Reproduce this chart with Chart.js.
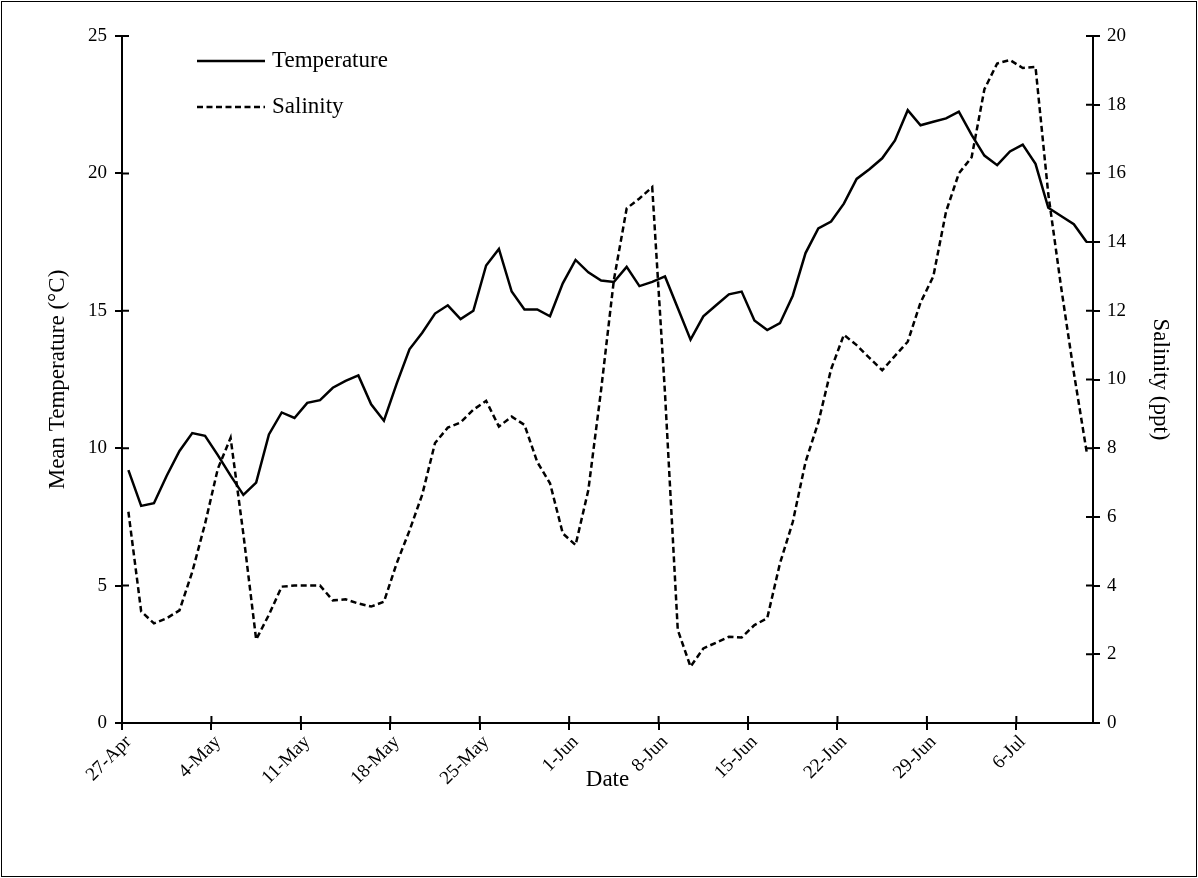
<!DOCTYPE html>
<html>
<head>
<meta charset="utf-8">
<title>Mean Temperature and Salinity</title>
<script src="https://cdn.jsdelivr.net/npm/chart.js@4"></script>
<style>
  body { margin: 0; background: #fff; }
  #wrap { position: relative; width: 1198px; height: 878px; }
  #frame { position: absolute; left: 1px; top: 1px; right: 1px; bottom: 1px; border: 1.5px solid #000; pointer-events: none; }
</style>
</head>
<body>
<div id="wrap">
  <canvas id="tempSalGraph" width="1198" height="878"></canvas>
  <div id="frame"></div>
</div>
<script>
// daily categories, 27-Apr to 11-Jul
const dates = [
    '27-Apr', '28-Apr', '29-Apr', '30-Apr',
    '1-May', '2-May', '3-May', '4-May', '5-May', '6-May', '7-May', '8-May', '9-May', '10-May',
    '11-May', '12-May', '13-May', '14-May', '15-May', '16-May', '17-May', '18-May', '19-May', '20-May',
    '21-May', '22-May', '23-May', '24-May', '25-May', '26-May', '27-May', '28-May', '29-May', '30-May', '31-May',
    '1-Jun', '2-Jun', '3-Jun', '4-Jun', '5-Jun', '6-Jun', '7-Jun', '8-Jun', '9-Jun', '10-Jun',
    '11-Jun', '12-Jun', '13-Jun', '14-Jun', '15-Jun', '16-Jun', '17-Jun', '18-Jun', '19-Jun', '20-Jun',
    '21-Jun', '22-Jun', '23-Jun', '24-Jun', '25-Jun', '26-Jun', '27-Jun', '28-Jun', '29-Jun', '30-Jun',
    '1-Jul', '2-Jul', '3-Jul', '4-Jul', '5-Jul', '6-Jul', '7-Jul', '8-Jul', '9-Jul', '10-Jul', '11-Jul'
];

// Mean temperature (°C)
const temperature = [
    9.2, 7.9, 8.0, 9.0, 9.9, 10.55, 10.45, 9.75, 9.0, 8.3,
    8.75, 10.5, 11.3, 11.1, 11.65, 11.75, 12.2, 12.45, 12.65, 11.6,
    11.0, 12.35, 13.6, 14.2, 14.9, 15.2, 14.7, 15.0, 16.65, 17.25,
    15.7, 15.05, 15.05, 14.8, 16.0, 16.85, 16.4, 16.1, 16.05, 16.6,
    15.9, 16.05, 16.25, 15.1, 13.95, 14.8, 15.2, 15.6, 15.7, 14.65,
    14.3, 14.55, 15.55, 17.1, 18.0, 18.25, 18.9, 19.8, 20.15, 20.55,
    21.2, 22.3, 21.75, 21.88, 22.0, 22.25, 21.4, 20.65, 20.3, 20.8,
    21.05, 20.35, 18.75, 18.45, 18.15, 17.5
];

// Salinity (ppt)
const salinity = [
    6.15, 3.25, 2.9, 3.05, 3.28, 4.4, 5.8, 7.4, 8.3, 5.5,
    2.43, 3.15, 3.97, 4.0, 4.0, 4.0, 3.57, 3.6, 3.48, 3.39,
    3.53, 4.65, 5.6, 6.65, 8.15, 8.6, 8.75, 9.12, 9.38, 8.63,
    8.92, 8.68, 7.6, 6.98, 5.52, 5.18, 6.78, 9.7, 12.9, 14.98,
    15.27, 15.6, 9.6, 2.71, 1.64, 2.17, 2.34, 2.51, 2.49, 2.85,
    3.05, 4.65, 5.85, 7.6, 8.75, 10.3, 11.3, 11.0, 10.63, 10.27,
    10.69, 11.1, 12.24, 13.0, 14.89, 16.0, 16.47, 18.45, 19.2, 19.3,
    19.07, 19.1, 15.4, 12.7, 10.2, 7.9
];

const labelEvery = 7;
const serif = "'Liberation Serif', 'Times New Roman', serif";

// legend drawn inside the plot, stacked like the original
const insideLegend = {
    id: 'insideLegend',
    afterDatasetsDraw(chart) {
        const { ctx, chartArea } = chart;
        ctx.save();
        chart.data.datasets.forEach((ds, i) => {
            const x = chartArea.left + 75;
            const y = chartArea.top + 25 + i * 46;
            ctx.beginPath();
            ctx.setLineDash(ds.borderDash || []);
            ctx.lineWidth = ds.borderWidth;
            ctx.strokeStyle = ds.borderColor;
            ctx.moveTo(x, y);
            ctx.lineTo(x + 68, y);
            ctx.stroke();
            ctx.setLineDash([]);
            ctx.fillStyle = '#000';
            ctx.font = '23px ' + serif;
            ctx.textBaseline = 'middle';
            ctx.fillText(ds.label, x + 75, y);
        });
        ctx.restore();
    }
};

// Excel style tick marks cross the axis, chart.js only draws the outer half
const innerTicks = {
    id: 'innerTicks',
    afterDraw(chart) {
        const { ctx, scales: { x, y, y1 } } = chart;
        ctx.save();
        ctx.strokeStyle = '#000';
        ctx.lineWidth = 2;
        ctx.beginPath();
        y.ticks.forEach(t => {
            const p = y.getPixelForValue(t.value);
            ctx.moveTo(y.right, p);
            ctx.lineTo(y.right + 7, p);
        });
        y1.ticks.forEach(t => {
            const p = y1.getPixelForValue(t.value);
            ctx.moveTo(y1.left, p);
            ctx.lineTo(y1.left - 7, p);
        });
        const step = x.getPixelForValue(1) - x.getPixelForValue(0);
        for (let i = labelEvery; i < dates.length; i += labelEvery) {
            const p = x.getPixelForValue(i) - step / 2;
            ctx.moveTo(p, x.top);
            ctx.lineTo(p, x.top - 7);
        }
        ctx.stroke();
        ctx.restore();
    }
};

const ctx = document.getElementById('tempSalGraph').getContext('2d');
const tempSalGraph = new Chart(ctx, {
    type: 'line',
    data: {
        labels: dates,
        datasets: [{
            label: 'Temperature',
            data: temperature,
            yAxisID: 'y',
            borderColor: '#000',
            borderWidth: 2.5,
            pointRadius: 0,
            tension: 0,
            fill: false
        }, {
            label: 'Salinity',
            data: salinity,
            yAxisID: 'y1',
            borderColor: '#000',
            borderWidth: 2.5,
            borderDash: [6, 3.5],
            pointRadius: 0,
            tension: 0,
            fill: false
        }]
    },
    options: {
        responsive: false,
        animation: false,
        layout: { padding: { top: 36 } },
        plugins: {
            legend: { display: false },
            tooltip: { enabled: false }
        },
        scales: {
            x: {
                offset: true,
                grid: {
                    offset: true,
                    drawOnChartArea: false,
                    tickLength: 7,
                    lineWidth: 2,
                    color: c => (c.index % labelEvery === 0 ? '#000' : 'rgba(0,0,0,0)')
                },
                border: { color: '#000', width: 2 },
                ticks: {
                    autoSkip: false,
                    minRotation: 45,
                    maxRotation: 45,
                    padding: 1,
                    color: '#000',
                    font: { family: serif, size: 19 },
                    callback: function (val, i) {
                        return i % labelEvery === 0 ? dates[i] : '';
                    }
                },
                title: {
                    display: true,
                    text: 'Date',
                    color: '#000',
                    font: { family: serif, size: 23 },
                    padding: { top: 0, bottom: 84 }
                },
                afterFit: s => { s.height = 155; }
            },
            y: {
                position: 'left',
                min: 0,
                max: 25,
                ticks: {
                    stepSize: 5,
                    padding: 8,
                    color: '#000',
                    font: { family: serif, size: 19 }
                },
                grid: { drawOnChartArea: false, tickLength: 7, lineWidth: 2, color: '#000' },
                border: { color: '#000', width: 2 },
                title: {
                    display: true,
                    text: 'Mean Temperature (°C)',
                    color: '#000',
                    font: { family: serif, size: 23 },
                    padding: { top: 44, bottom: 0 }
                },
                afterFit: s => { s.width = 122; }
            },
            y1: {
                position: 'right',
                min: 0,
                max: 20,
                ticks: {
                    stepSize: 2,
                    padding: 7,
                    color: '#000',
                    font: { family: serif, size: 19 }
                },
                grid: { drawOnChartArea: false, tickLength: 7, lineWidth: 2, color: '#000' },
                border: { color: '#000', width: 2 },
                title: {
                    display: true,
                    text: 'Salinity (ppt)',
                    color: '#000',
                    font: { family: serif, size: 23 },
                    padding: { top: 24, bottom: 0 }
                },
                afterFit: s => { s.width = 105; }
            }
        }
    },
    plugins: [insideLegend, innerTicks]
});
</script>
</body>
</html>
